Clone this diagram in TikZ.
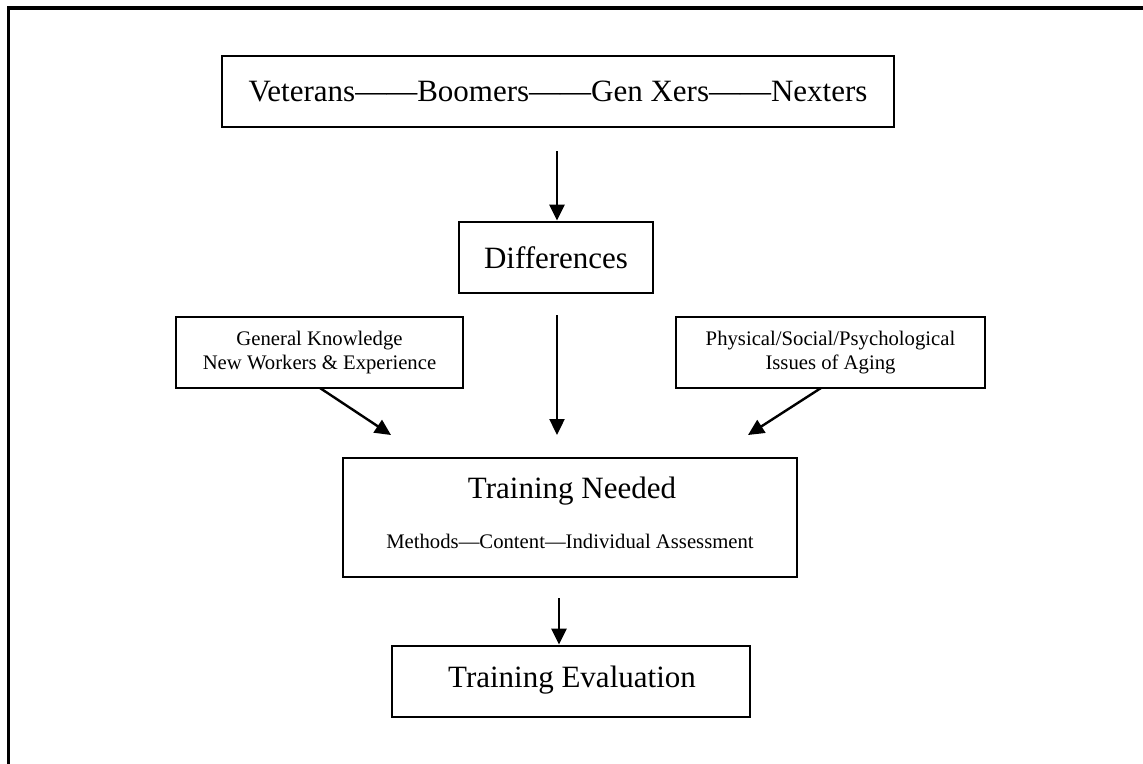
\documentclass[tikz,border=0pt]{standalone}
\usepackage{fontspec}
\setmainfont{Liberation Serif}
\usetikzlibrary{arrows.meta}
\tikzset{
  box/.style={draw=black, line width=2.8pt, inner sep=0pt, align=center},
  bigtxt/.style={font=\fontsize{31}{36}\selectfont},
  smalltxt/.style={font=\fontsize{20.7}{23.5}\selectfont},
  arr/.style={line width=2.4pt, -{Triangle[length=16pt,width=15pt]}},
}
\begin{document}
\begin{tikzpicture}[x=1pt,y=-1pt]
\useasboundingbox (0,0) rectangle (1143,763);
\begin{scope}
\clip (0,0) rectangle (1143,763);
\draw[line width=3.2pt] (8.5,8) rectangle (1160,790);
\end{scope}
% top box
\node[box, bigtxt, minimum width=672pt, minimum height=71pt] (top) at (558,91.5)
  {Veterans\textemdash\textemdash Boomers\textemdash\textemdash Gen Xers\textemdash\textemdash Nexters};
% differences
\node[box, bigtxt, minimum width=194pt, minimum height=71pt] (diff) at (556,257.5) {Differences};
% side boxes
\node[box, smalltxt, minimum width=287pt, minimum height=71pt] (gk) at (319.5,352.5)
  {General Knowledge\\New Workers \& Experience};
\node[box, smalltxt, minimum width=309pt, minimum height=71pt] (phys) at (830.5,352.5)
  {Physical/Social/Psychological\\Issues of Aging};
% training needed
\node[box, minimum width=454pt, minimum height=119pt] (tn) at (570,517.5) {};
\node[bigtxt, anchor=base, inner sep=0pt] (tn1) at (572,498) {Training Needed};
\node[smalltxt, anchor=base, inner sep=0pt] (tn2) at (570,548) {Methods\textemdash Content\textemdash Individual Assessment};
% training evaluation
\node[box, bigtxt, minimum width=358pt, minimum height=71pt] (te) at (571,681.5) {};
\node[bigtxt, anchor=base, inner sep=0pt] (te1) at (572,687) {Training Evaluation};
% arrow end points
\coordinate (gkstart) at (320,388);
\coordinate (gkend) at (391,435);
\coordinate (phstart) at (821,388);
\coordinate (phend) at (748,435);
\coordinate (midstart) at (557,315);
\coordinate (midend) at (557,435);
\coordinate (topstart) at (557,151);
\coordinate (tnstart) at (559,598);
% arrows
\draw[arr] (topstart) -- (diff.north -| topstart);
\draw[arr] (midstart) -- (midend);
\draw[arr] (gkstart) -- (gkend);
\draw[arr] (phstart) -- (phend);
\draw[arr] (tnstart) -- (te.north -| tnstart);
\end{tikzpicture}
\end{document}
